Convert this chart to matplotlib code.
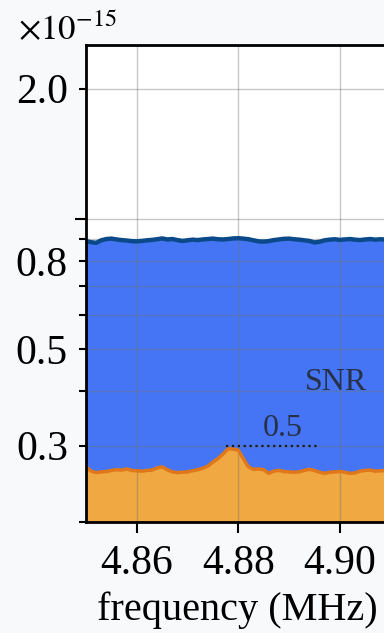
import matplotlib
matplotlib.use("Agg")
import matplotlib.pyplot as plt
import numpy as np

plt.rcParams['font.family'] = ['Liberation Serif', 'DejaVu Serif']
plt.rcParams['mathtext.fontset'] = 'stix'

# frequency grid (MHz) and spectra in units of 1e-15
freq = np.round(np.arange(4.850, 4.9105, 0.001), 3)

signal = [0.889, 0.884, 0.881, 0.893, 0.899, 0.901, 0.897, 0.894, 0.892, 0.889,
          0.888, 0.890, 0.893, 0.895, 0.898, 0.902, 0.897, 0.899, 0.894, 0.890,
          0.893, 0.896, 0.894, 0.897, 0.899, 0.901, 0.898, 0.897, 0.899, 0.902,
          0.903, 0.901, 0.898, 0.893, 0.888, 0.887, 0.889, 0.894, 0.897, 0.900,
          0.901, 0.898, 0.896, 0.893, 0.890, 0.883, 0.886, 0.893, 0.896, 0.898,
          0.895, 0.897, 0.899, 0.896, 0.894, 0.897, 0.899, 0.896, 0.898, 0.897,
          0.895]

noise = [0.268, 0.262, 0.260, 0.261, 0.2615, 0.263, 0.264, 0.2635, 0.265, 0.263,
         0.2625, 0.262, 0.263, 0.2635, 0.2665, 0.268, 0.264, 0.261, 0.260, 0.2605,
         0.261, 0.2625, 0.264, 0.266, 0.269, 0.275, 0.280, 0.287, 0.295, 0.2945,
         0.293, 0.280, 0.268, 0.2645, 0.265, 0.264, 0.259, 0.262, 0.263, 0.2615,
         0.261, 0.2605, 0.261, 0.263, 0.2645, 0.263, 0.2605, 0.259, 0.2605, 0.261,
         0.2615, 0.2605, 0.259, 0.2595, 0.262, 0.263, 0.2635, 0.262, 0.2625, 0.263,
         0.262]

# peak marker: level and frequency span of the dotted guide
peak_level = 0.3
peak_span = (4.8776, 4.8961)
peak_label = "0.5"
peak_label_x = 4.8888

y_labeled = [0.3, 0.5, 0.8, 2.0]
y_unlabeled = [0.2, 0.4, 0.6, 0.7, 0.9]
x_ticks = [4.86, 4.88, 4.90]

bg = '#f8f9fb'
fig = plt.figure(figsize=(3.84, 6.33), dpi=100, facecolor=bg)
ax = fig.add_axes([0.224, 0.1754, 1.3216, 0.7535])

ax.fill_between(freq, 0.01, signal, color='#4575f4', lw=0, zorder=1)
ax.plot(freq, signal, color='#0b4a8a', lw=3.2, zorder=3)
ax.fill_between(freq, 0.01, noise, color='#f0a843', lw=0, zorder=2)
ax.plot(freq, noise, color='#e0781a', lw=2.5, zorder=3)

ax.hlines(peak_level, *peak_span, colors='#1a1a1a', linestyles=':', lw=1.6, zorder=4)
ax.text(peak_label_x, peak_level * 1.012, peak_label, ha='center', va='bottom',
        fontsize=23, color='#263046', zorder=5)
ax.text(4.8993, 0.404, "SNR", ha='center', va='baseline', fontsize=23,
        color='#263046', zorder=5)

ax.set_yscale('log')
ax.set_xlim(4.85, 4.95)
ax.set_ylim(0.2, 2.52)

ax.set_yticks([1.0])
ax.set_yticklabels([''])
ax.set_yticks(y_labeled + y_unlabeled, minor=True)
ax.set_yticklabels([f"{v:.1f}" for v in y_labeled] + [''] * len(y_unlabeled), minor=True)
ax.set_xticks(x_ticks)
ax.set_xticklabels([f"{v:.2f}" for v in x_ticks])

ax.tick_params(axis='y', which='major', length=8, width=1.5, pad=8)
ax.tick_params(axis='y', which='minor', length=5, width=1.5, pad=8, labelsize=30)
ax.tick_params(axis='x', length=8, width=1.5, pad=8, labelsize=30)

ax.grid(True, which='both', color='0.45', alpha=0.4, lw=1.0, zorder=6)
ax.set_axisbelow(False)

for s in ax.spines.values():
    s.set_linewidth(2.0)
    s.set_zorder(7)

# the axes runs past the right edge, so pin the label under the visible part
ax.set_xlabel("frequency (MHz)", fontsize=29)
ax.xaxis.set_label_coords(0.2985, -0.145)
fig.text(18 / 384, 1 - 40 / 633, r'$\times10^{-15}$', fontsize=25, va='baseline', ha='left')

fig.savefig('out.png', dpi=100, facecolor=bg)
